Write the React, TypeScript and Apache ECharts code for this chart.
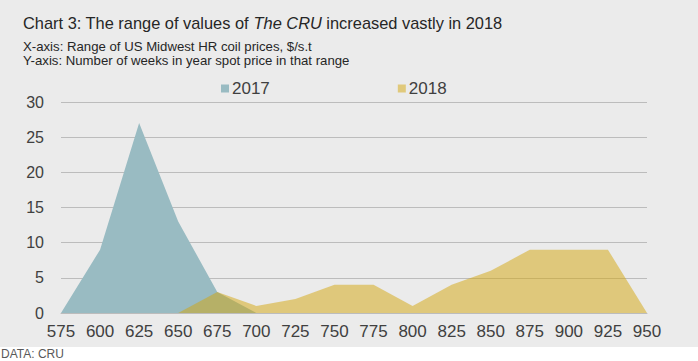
import React, { useEffect, useRef } from "react";
import * as echarts from "echarts";

const categories = ["575", "600", "625", "650", "675", "700", "725", "750", "775", "800", "825", "850", "875", "900", "925", "950"];
const series2017 = [0, 9, 27, 13, 3, 0, "-", "-", "-", "-", "-", "-", "-", "-", "-", "-"];
const series2018 = ["-", "-", "-", 0, 3, 1, 2, 4, 4, 1, 4, 6, 9, 9, 9, 0];
const yTicks = { min: 0, max: 30, interval: 5 };

const FONT = "'Liberation Sans', Arial, sans-serif";

export default function App() {
  const ref = useRef<HTMLDivElement>(null);
  useEffect(() => {
    if (!ref.current) return;
    const chart = echarts.init(ref.current, null, { renderer: "svg" });
    chart.setOption({
      animation: false,
      backgroundColor: "#ebebeb",
      textStyle: { fontFamily: FONT },
      grid: { left: 61, right: 51, top: 102, bottom: 48, containLabel: false },
      legend: {
        left: 216,
        top: 75,
        icon: "rect",
        itemWidth: 8,
        itemHeight: 8,
        itemGap: 128,
        textStyle: { fontSize: 17, color: "#404040", fontFamily: FONT, padding: [0, 0, 0, -2] },
        data: ["2017", "2018"],
      },
      xAxis: {
        type: "category",
        data: categories,
        boundaryGap: false,
        axisLine: { lineStyle: { color: "#bcbcbc", width: 1 } },
        axisTick: { show: false },
        axisLabel: { color: "#404040", fontSize: 17, margin: 10, fontFamily: FONT, interval: 0 },
        splitLine: { show: false },
      },
      yAxis: {
        type: "value",
        min: yTicks.min,
        max: yTicks.max,
        interval: yTicks.interval,
        axisLine: { show: false },
        axisTick: { show: false },
        axisLabel: { color: "#404040", fontSize: 16, margin: 17, fontFamily: FONT },
        splitLine: { lineStyle: { color: "#bcbcbc", width: 1 } },
      },
      series: [
        {
          name: "2017",
          type: "line",
          data: series2017,
          showSymbol: false,
          symbol: "none",
          lineStyle: { width: 0 },
          itemStyle: { color: "#99bbc2" },
          areaStyle: { color: "#99bbc2", opacity: 1 },
          z: 2,
        },
        {
          name: "2018",
          type: "line",
          data: series2018,
          showSymbol: false,
          symbol: "none",
          lineStyle: { width: 0 },
          itemStyle: { color: "#e0c97b" },
          areaStyle: { color: "rgba(212,166,12,0.5)", opacity: 1 },
          z: 3,
        },
      ],
      graphic: [
        {
          type: "rect",
          shape: { x: 0, y: 347, width: 698, height: 14 },
          style: { fill: "#ffffff" },
          silent: true,
        },
        {
          type: "text",
          x: 23,
          y: 15,
          style: {
            text: "{a|Chart 3: The range of values of }{i|The CRU}{a| increased vastly in 2018}",
            rich: {
              a: { fontSize: 16.4, fill: "#262626", fontFamily: FONT },
              i: { fontSize: 16.4, fill: "#262626", fontFamily: FONT, fontStyle: "italic" },
            },
            fill: "#262626",
            fontSize: 16.4,
            fontFamily: FONT,
          },
        },
        {
          type: "text",
          x: 23,
          y: 40,
          style: {
            text: "X-axis: Range of US Midwest HR coil prices, $/s.t\nY-axis: Number of weeks in year spot price in that range",
            fontSize: 13.2,
            lineHeight: 13.5,
            fill: "#262626",
            fontFamily: FONT,
          },
        },
        {
          type: "text",
          x: 1,
          y: 348,
          style: { text: "DATA: CRU", fontSize: 12, fill: "#595959", fontFamily: FONT },
        },
      ],
    });
    return () => chart.dispose();
  }, []);
  return <div ref={ref} style={{ position: "fixed", left: 0, top: 0, width: 698, height: 361 }} />;
}
